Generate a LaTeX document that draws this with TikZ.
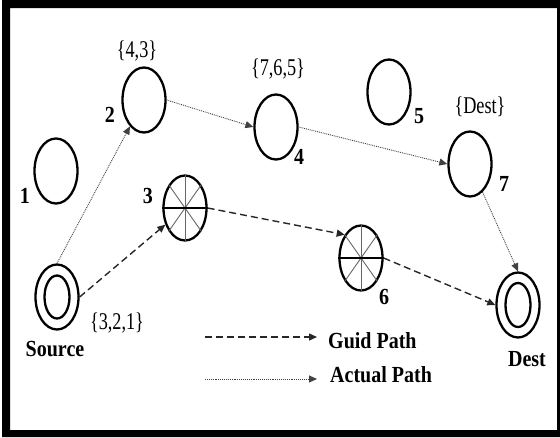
\documentclass[tikz,border=0pt]{standalone}
\usepackage{fontspec}
\setmainfont{Liberation Serif}
\newfontfamily\boldlbl[FakeStretch=0.87]{Liberation Serif}
\newfontfamily\setlblfont[FakeStretch=0.76]{Liberation Serif}
\usetikzlibrary{shapes.geometric,arrows.meta}
\begin{document}
\begin{tikzpicture}[x=1pt,y=-1pt,
  nd/.style={draw,ellipse,line width=2.3pt,minimum width=43pt,minimum height=65pt,inner sep=0pt},
  num/.style={font=\boldlbl\fontsize{23}{25}\selectfont\bfseries,inner sep=0pt},
  setlbl/.style={font=\setlblfont\fontsize{24}{26}\selectfont,inner sep=0pt},
  tip/.style={-{Triangle[length=8pt,width=7pt]}},
  actual/.style={tip,densely dotted,line width=0.9pt,draw=black!75},
  guid/.style={tip,dash pattern=on 7pt off 4pt,line width=1.4pt,draw=black!85},
  spoke/.style={draw=black!60,line width=0.9pt}]
\useasboundingbox (0,0) rectangle (560,437);
% frame
\fill[black,even odd rule] (2,0) rectangle (560,437) (10,8) rectangle (557,430);
% nodes
\node[nd] (n1) at (56,171) {};
\node[nd] (n2) at (144,100) {};
\node[nd] (n3) at (185,208) {};
\node[nd] (n4) at (276,127) {};
\node[nd] (n5) at (389,92) {};
\node[nd] (n6) at (361,258) {};
\node[nd] (n7) at (470,164) {};
\node[nd] (src) at (57,297) {};
\node[nd] (dst) at (518,305) {};
\draw[line width=2.3pt] (src.center) ellipse (12.5 and 21.5);
\draw[line width=2.3pt] (dst.center) ellipse (12.5 and 22);
% wheel spokes
\foreach \w in {n3,n6}{
  \draw[spoke] (\w.north) -- (\w.south);
  \draw[spoke] (\w.55) -- (\w.235);
  \draw[spoke] (\w.125) -- (\w.305);
  \draw[line width=1.3pt] (\w.west) -- (\w.east);
}
% labels
\node[setlbl] (l43) at (137,51) {\{4,3\}};
\node[num] (l2) at (110,115) {2};
\node[num] (l1) at (25,196) {1};
\node[num] (l3) at (148,196) {3};
\node[setlbl] (l765) at (278,69) {\{7,6,5\}};
\node[num] (l4) at (299,157) {4};
\node[num] (l5) at (419,116) {5};
\node[setlbl] (ldest) at (480,107) {\{Dest\}};
\node[num] (l7) at (504,184) {7};
\node[setlbl] (l321) at (117,323) {\{3,2,1\}};
\node[num] (lsrc) at (55,349) {Source};
\node[num] (l6) at (384,297) {6};
\node[num] (ldst) at (527,359) {Dest};
% edges
\draw[actual] (src.north) -- (n2);
\draw[actual] (n2.east) -- (n4.west);
\draw[actual] (n4.east) -- (n7.west);
\draw[actual] (n7) -- (dst.north);
\draw[guid] (src.east) -- (n3);
\draw[guid] (n3.east) -- (n6.125);
\draw[guid] (n6.east) -- (dst.west);
% legend
\coordinate (g1) at (205,337);
\coordinate (g2) at (317,337);
\coordinate (a1) at (205,379);
\coordinate (a2) at (317,379);
\draw[guid] (g1) -- (g2);
\draw[actual] (a1) -- (a2);
\node[num,anchor=west] (tg) at (328,341) {Guid Path};
\node[num,anchor=west] (ta) at (330,375) {Actual Path};
\end{tikzpicture}
\end{document}
